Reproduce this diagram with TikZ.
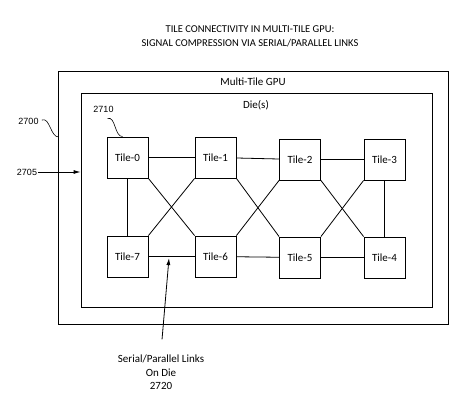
\documentclass[tikz,border=0pt]{standalone}
\usepackage{fontspec}
\setmainfont{Carlito}
\newfontfamily\numfont{Liberation Sans}
\usetikzlibrary{arrows.meta}
\tikzset{
	tile/.style={draw, minimum size=41pt, inner sep=0pt, font=\fontsize{11}{13}\selectfont},
	frame/.style={draw, inner sep=0pt},
	refnum/.style={font=\numfont\fontsize{9}{11}\selectfont, inner sep=1pt},
	arr/.style={-{Latex[length=7pt,width=4pt]}},
}
\begin{document}
\begin{tikzpicture}[x=1pt, y=-1pt, line width=0.8pt, font=\fontsize{11}{13.5}\selectfont]
	\useasboundingbox (0,0) rectangle (474,412);

	\node[font=\fontsize{10.5}{14}\selectfont, align=center] (title) at (250,36)
		{TILE CONNECTIVITY IN MULTI-TILE GPU:\\SIGNAL COMPRESSION VIA SERIAL/PARALLEL LINKS};

	\node[frame, minimum width=390pt, minimum height=253pt] (gpu) at (253,197.5) {};
	\node[frame, minimum width=351pt, minimum height=214pt] (die) at (256.5,200) {};
	\node (gpulbl) at (253,82) {Multi-Tile GPU};
	\node (dielbl) at (256,105) {Die(s)};

	\foreach \i / \x / \y in {
	0/127.5/157.5, 1/215.5/157.5, 2/300/159.5, 3/384.5/159.5,
	4/384.5/257.5, 5/300/257.5, 6/215.5/256.5, 7/127.5/256.5}
	{
		\node[tile] (t\i) at (\x,\y) {Tile-\i};
	};

	% straight links
	\foreach \i / \j in {0/1, 1/2, 2/3, 7/6, 6/5, 5/4, 0/7, 3/4}
	{
		\draw (t\i) -- (t\j);
	};
	% crossing links
	\foreach \i / \j in {0/6, 1/5, 2/4}
	{
		\draw (t\i.south east) -- (t\j.north west);
	};
	\foreach \i / \j in {7/1, 6/2, 5/3}
	{
		\draw (t\i.north east) -- (t\j.south west);
	};

	\node[refnum] (r2700) at (28.5,121) {2700};
	\node[refnum] (r2705) at (27,172) {2705};
	\node[refnum] (r2710) at (103.5,109) {2710};
	\coordinate (c2700) at (58.5,137);

	\draw[line width=0.6pt] (r2700.east) ++(2,-1) .. controls +(8,-3) and +(-8,0) .. (c2700);
	\draw[line width=0.6pt] (r2710.south) ++(4,5) .. controls +(8,-3) and +(-8,0) .. ([xshift=-5pt]t0.north);
	\draw[arr] (r2705.east) -- (r2705.east -| die.west);

	\node[align=center] (spl) at (161,372.5) {Serial/Parallel Links\\On Die\\2720};
	\coordinate (splhit) at (169,258);
	\draw[arr, shorten <=12pt] (spl.north) -- (splhit);
\end{tikzpicture}
\end{document}
